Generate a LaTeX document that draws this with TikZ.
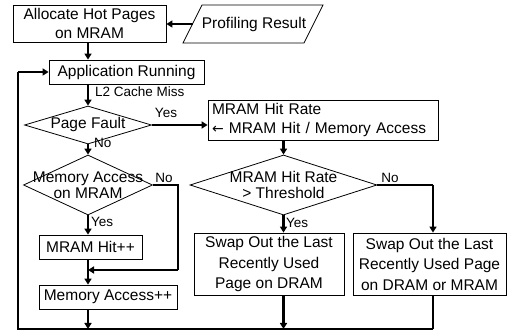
\documentclass[tikz,border=0pt]{standalone}
\usepackage{fontspec}
\setmainfont{Liberation Sans}
\newfontfamily\arrowfont{DejaVu Sans}
\usetikzlibrary{arrows.meta,shapes.geometric}

\tikzset{
  box/.style={draw, line width=0.8pt, inner sep=0pt, align=center,
    font=\fontsize{15.5}{18.5}\selectfont},
  tallbox/.style={box, font=\fontsize{15.5}{20.5}\selectfont},
  decision/.style={draw, diamond, line width=0.8pt, inner sep=0pt},
  dtext/.style={align=center, inner sep=0pt, font=\fontsize{15.5}{16.5}\selectfont},
  lbl/.style={inner sep=0pt, font=\fontsize{13.5}{15}\selectfont},
  flow/.style={line width=2.2pt, -{Triangle[length=6pt,width=7pt]}},
  thinflow/.style={line width=1.2pt},
}

\begin{document}
\begin{tikzpicture}[x=1pt, y=-1pt]
\useasboundingbox (0,0) rectangle (507,331);

% process boxes
\node[box, minimum width=153, minimum height=37] (alloc) at (89.5,23.5)
  {Allocate Hot Pages\\on MRAM};
\node[box, minimum width=155, minimum height=24] (app) at (126.5,72)
  {Application Running};
\node[box, minimum width=230, minimum height=40, align=left,
      text width=222, inner xsep=4pt] (rate) at (323,120)
  {MRAM Hit Rate\\{\arrowfont\fontsize{14}{16}\selectfont ←} MRAM Hit / Memory Access};
\node[box, minimum width=103, minimum height=24] (hit) at (90.5,247)
  {MRAM Hit++};
\node[box, minimum width=138, minimum height=24] (acc) at (108,297)
  {Memory Access++};
\node[tallbox, minimum width=150, minimum height=62] (swapd) at (269,264)
  {Swap Out the Last\\Recently Used\\Page on DRAM};
\node[tallbox, minimum width=153, minimum height=62] (swapm) at (429.5,264)
  {Swap Out the Last\\Recently Used Page\\on DRAM or MRAM};

% input / data node
\draw[line width=0.8pt] (183,43) -- (202,5) -- (323,5) -- (304,43) -- cycle;
\node[box, draw=none] (prof) at (254,24) {Profiling Result};
\coordinate (profin) at (192.5,24);

% decisions
\node[decision, minimum width=127, minimum height=38] (pf) at (88,125) {};
\node[dtext] (pft) at (88,124) {Page Fault};
\node[decision, minimum width=129, minimum height=60] (ma) at (88,185) {};
\node[dtext] (mat) at (88,185) {Memory Access\\on MRAM};
\node[decision, minimum width=187, minimum height=60] (th) at (283.5,185) {};
\node[dtext] (tht) at (283.5,185) {MRAM Hit Rate\\> Threshold};

% helper points for the return loop
\coordinate (bot) at (18,329);
\coordinate (noma) at (178,185);
\coordinate (join) at (178,270);
\coordinate (noth) at (433,185);

% connectors
\draw[flow] (profin) -- (alloc.east |- profin);
\draw[flow] (alloc.south -| pf.north) -- (app.north -| pf.north);
\draw[flow] (app.south -| pf.north) -- (pf.north);
\draw[flow] (pf.east) -- (rate.west |- pf.east);
\draw[flow] (pf.south) -- (ma.north);
\draw[flow] (rate.south -| th.north) -- (th.north);
\draw[flow] (ma.south) -- (hit.north -| ma.south);
\draw[flow] (hit.south -| ma.south) -- (acc.north -| ma.south);
\draw[thinflow] (ma.east) -- (noma) -- (join);
\draw[flow] (join) -- (join -| ma.south);
\draw[flow] (th.south) -- (swapd.north -| th.south);
\draw[thinflow] (th.east) -- (noth);
\draw[flow] (noth) -- (swapm.north -| noth);
\draw[flow] (acc.south -| ma.south) -- (bot -| ma.south);
\draw[flow] (swapd.south -| th.south) -- (bot -| th.south);
\draw[thinflow] (swapm.south -| noth) -- (bot -| noth);
\draw[line width=2.2pt] (bot -| noth) -- (bot) -- (bot |- app.west);
\draw[flow] (bot |- app.west) -- (app.west);

% branch labels
\node[lbl, anchor=west] (l2) at (95,92) {L2 Cache Miss};
\node[lbl] (yes1) at (166,113) {Yes};
\node[lbl, anchor=west] (no1) at (94,143) {No};
\node[lbl] (no2) at (164,178) {No};
\node[lbl, anchor=west] (yes2) at (91,222) {Yes};
\node[lbl] (no3) at (390,178) {No};
\node[lbl, anchor=west] (yes3) at (286,223) {Yes};
\end{tikzpicture}
\end{document}
